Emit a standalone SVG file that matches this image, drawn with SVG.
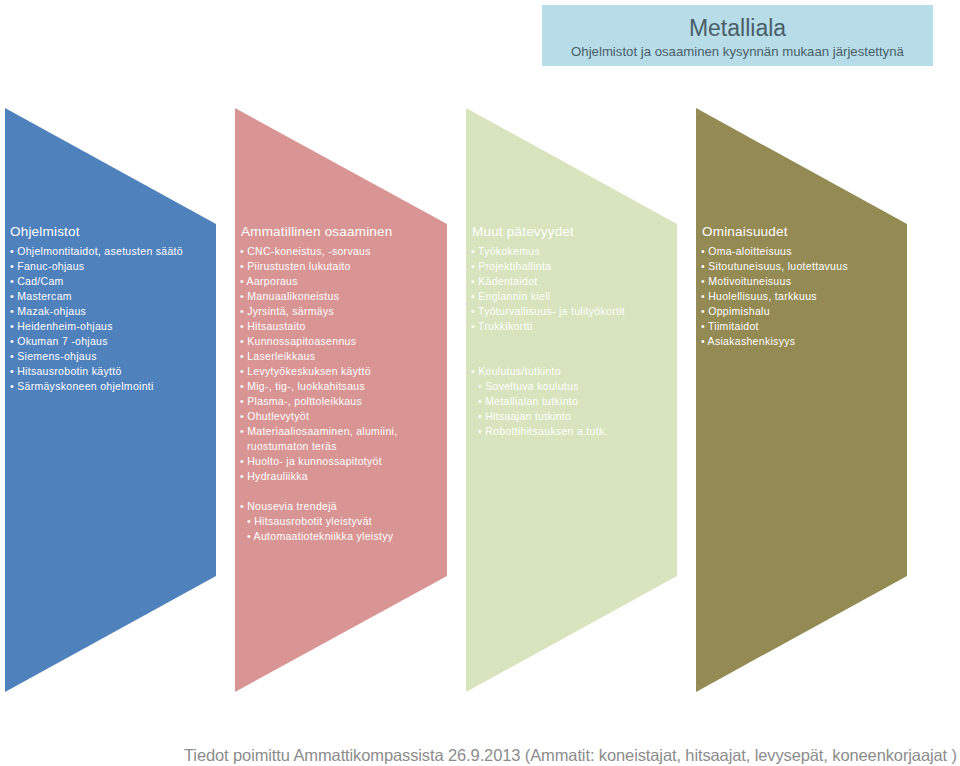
<svg xmlns="http://www.w3.org/2000/svg" width="960" height="766" viewBox="0 0 960 766">
<style>
.hd{font-family:"Liberation Sans",Arial,sans-serif;font-size:13.5px;fill:#ffffff;letter-spacing:0.2px}
.it{font-family:"Liberation Sans",Arial,sans-serif;font-size:10.5px;fill:#ffffff;letter-spacing:0.3px}
.t1{font-family:"Liberation Sans",Arial,sans-serif;font-size:23px;fill:#4a5d68}
.t2{font-family:"Liberation Sans",Arial,sans-serif;font-size:13.2px;fill:#4a5d68}
.ft{font-family:"Liberation Sans",Arial,sans-serif;font-size:16.5px;fill:#8c8c8c}
</style>
<rect width="960" height="766" fill="#ffffff"/>
<g id="title">
<rect x="542" y="5" width="391" height="61" fill="#b7dde8"/>
<text class="t1" x="737.5" y="36" text-anchor="middle">Metalliala</text>
<text class="t2" x="737.5" y="56" text-anchor="middle">Ohjelmistot ja osaaminen kysynnän mukaan järjestettynä</text>
</g>
<g id="ohjelmistot">
<polygon points="5,108 216,224 216,576 5,692" fill="#4f81bd"/>
<text class="hd" x="10" y="236">Ohjelmistot</text>
<text class="it" x="10" y="255">• Ohjelmontitaidot, asetusten säätö</text>
<text class="it" x="10" y="270">• Fanuc-ohjaus</text>
<text class="it" x="10" y="285">• Cad/Cam</text>
<text class="it" x="10" y="300">• Mastercam</text>
<text class="it" x="10" y="315">• Mazak-ohjaus</text>
<text class="it" x="10" y="330">• Heidenheim-ohjaus</text>
<text class="it" x="10" y="345">• Okuman 7 -ohjaus</text>
<text class="it" x="10" y="360">• Siemens-ohjaus</text>
<text class="it" x="10" y="375">• Hitsausrobotin käyttö</text>
<text class="it" x="10" y="390">• Särmäyskoneen ohjelmointi</text>
</g>
<g id="ammatillinen">
<polygon points="235,108 447,224 447,576 235,692" fill="#d99594"/>
<text class="hd" x="241" y="236">Ammatillinen osaaminen</text>
<text class="it" x="240" y="255">• CNC-koneistus, -sorvaus</text>
<text class="it" x="240" y="270">• Piirustusten lukutaito</text>
<text class="it" x="240" y="285">• Aarporaus</text>
<text class="it" x="240" y="300">• Manuaalikoneistus</text>
<text class="it" x="240" y="315">• Jyrsintä, särmäys</text>
<text class="it" x="240" y="330">• Hitsaustaito</text>
<text class="it" x="240" y="345">• Kunnossapitoasennus</text>
<text class="it" x="240" y="360">• Laserleikkaus</text>
<text class="it" x="240" y="375">• Levytyökeskuksen käyttö</text>
<text class="it" x="240" y="390">• Mig-, tig-, luokkahitsaus</text>
<text class="it" x="240" y="405">• Plasma-, polttoleikkaus</text>
<text class="it" x="240" y="420">• Ohutlevytyöt</text>
<text class="it" x="240" y="435">• Materiaaliosaaminen, alumiini,</text>
<text class="it" x="247" y="450">ruostumaton teräs</text>
<text class="it" x="240" y="465">• Huolto- ja kunnossapitotyöt</text>
<text class="it" x="240" y="480">• Hydrauliikka</text>
<text class="it" x="240" y="510">• Nousevia trendejä</text>
<text class="it" x="247" y="525">• Hitsausrobotit yleistyvät</text>
<text class="it" x="247" y="540">• Automaatiotekniikka yleistyy</text>
</g>
<g id="muut">
<polygon points="466,108 677,224 677,576 466,692" fill="#d7e4bd"/>
<text class="hd" x="472" y="236">Muut pätevyydet</text>
<text class="it" x="471" y="255">• Työkokemus</text>
<text class="it" x="471" y="270">• Projektihallinta</text>
<text class="it" x="471" y="285">• Kädentaidot</text>
<text class="it" x="471" y="300">• Englannin kieli</text>
<text class="it" x="471" y="315">• Työturvallisuus- ja tulityökortit</text>
<text class="it" x="471" y="330">• Trukkikortti</text>
<text class="it" x="471" y="375">• Koulutus/tutkinto</text>
<text class="it" x="478" y="390">• Soveltuva koulutus</text>
<text class="it" x="478" y="405">• Metallialan tutkinto</text>
<text class="it" x="478" y="420">• Hitsaajan tutkinto</text>
<text class="it" x="478" y="435">• Robottihitsauksen a.tutk.</text>
</g>
<g id="ominaisuudet">
<polygon points="696,108 907,224 907,576 696,692" fill="#948a54"/>
<text class="hd" x="702" y="236">Ominaisuudet</text>
<text class="it" x="701" y="255">• Oma-aloitteisuus</text>
<text class="it" x="701" y="270">• Sitoutuneisuus, luotettavuus</text>
<text class="it" x="701" y="285">• Motivoituneisuus</text>
<text class="it" x="701" y="300">• Huolellisuus, tarkkuus</text>
<text class="it" x="701" y="315">• Oppimishalu</text>
<text class="it" x="701" y="330">• Tiimitaidot</text>
<text class="it" x="701" y="345">• Asiakashenkisyys</text>
</g>
<g id="connectors"></g>
<g id="footer">
<text class="ft" x="184" y="761" textLength="773" lengthAdjust="spacing">Tiedot poimittu Ammattikompassista 26.9.2013 (Ammatit: koneistajat, hitsaajat, levysepät, koneenkorjaajat )</text>
</g>
</svg>
